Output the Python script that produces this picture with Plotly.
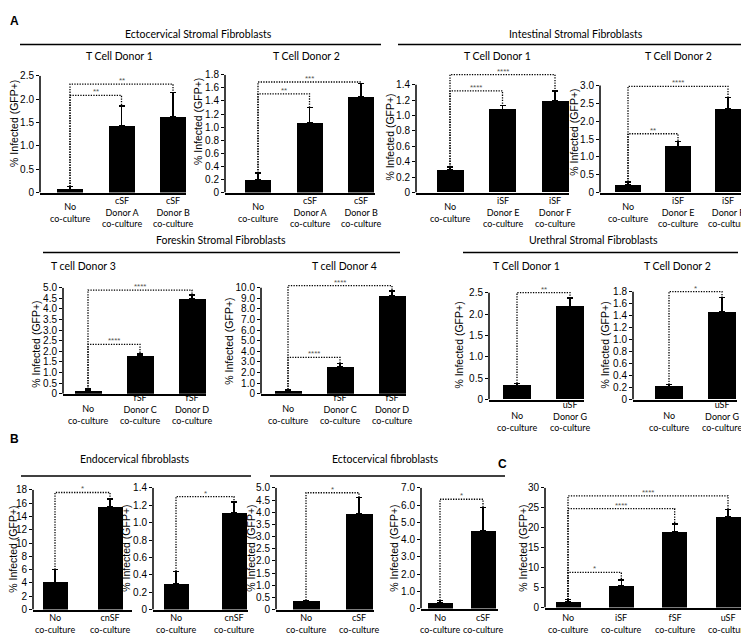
import plotly.graph_objects as go

W, H = 749, 635

# ------------------------------------------------------------------ data
ecto_d1_cats = ["No\nco-culture", "cSF\nDonor A\nco-culture", "cSF\nDonor B\nco-culture"]
ecto_d1_vals = [0.07, 1.44, 1.62]
ecto_d1_err = [0.06, 0.41, 0.52]
ecto_d1_ticks = [0, 0.5, 1.0, 1.5, 2.0, 2.5]
ecto_d1_sig = [(1, 2.08, "**"), (2, 2.32, "**")]

ecto_d2_cats = ["No\nco-culture", "cSF\nDonor A\nco-culture", "cSF\nDonor B\nco-culture"]
ecto_d2_vals = [0.19, 1.07, 1.47]
ecto_d2_err = [0.11, 0.23, 0.20]
ecto_d2_ticks = [0, 0.2, 0.4, 0.6, 0.8, 1.0, 1.2, 1.4, 1.6, 1.8]
ecto_d2_sig = [(1, 1.51, "**"), (2, 1.69, "***")]

int_d1_cats = ["No\nco-culture", "iSF\nDonor E\nco-culture", "iSF\nDonor F\nco-culture"]
int_d1_vals = [0.29, 1.08, 1.19]
int_d1_err = [0.04, 0.05, 0.13]
int_d1_ticks = [0, 0.2, 0.4, 0.6, 0.8, 1.0, 1.2, 1.4]
int_d1_sig = [(1, 1.32, "****"), (2, 1.53, "****")]

int_d2_cats = ["No\nco-culture", "iSF\nDonor E\nco-culture", "iSF\nDonor F\nco-culture"]
int_d2_vals = [0.22, 1.29, 2.34]
int_d2_err = [0.08, 0.14, 0.32]
int_d2_ticks = [0, 0.5, 1.0, 1.5, 2.0, 2.5, 3.0]
int_d2_sig = [(1, 1.65, "**"), (2, 2.98, "****")]

fore_d3_cats = ["No\nco-culture", "fSF\nDonor C\nco-culture", "fSF\nDonor D\nco-culture"]
fore_d3_vals = [0.16, 1.78, 4.47]
fore_d3_err = [0.06, 0.09, 0.19]
fore_d3_ticks = [0, 0.5, 1.0, 1.5, 2.0, 2.5, 3.0, 3.5, 4.0, 4.5, 5.0]
fore_d3_sig = [(1, 2.33, "****"), (2, 4.89, "****")]

fore_d4_cats = ["No\nco-culture", "fSF\nDonor C\nco-culture", "fSF\nDonor D\nco-culture"]
fore_d4_vals = [0.31, 2.55, 9.22]
fore_d4_err = [0.09, 0.30, 0.47]
fore_d4_ticks = [0, 1.0, 2.0, 3.0, 4.0, 5.0, 6.0, 7.0, 8.0, 9.0, 10.0]
fore_d4_sig = [(1, 3.42, "****"), (2, 10.19, "****")]

ure_d1_cats = ["No\nco-culture", "uSF\nDonor G\nco-culture"]
ure_d1_vals = [0.32, 2.18]
ure_d1_err = [0.06, 0.20]
ure_d1_ticks = [0, 0.5, 1.0, 1.5, 2.0, 2.5]
ure_d1_sig = [(1, 2.50, "**")]

ure_d2_cats = ["No\nco-culture", "uSF\nDonor G\nco-culture"]
ure_d2_vals = [0.22, 1.46]
ure_d2_err = [0.03, 0.24]
ure_d2_ticks = [0, 0.2, 0.4, 0.6, 0.8, 1.0, 1.2, 1.4, 1.6, 1.8]
ure_d2_sig = [(1, 1.80, "*")]

endo_a_cats = ["No\nco-culture", "cnSF\nco-culture"]
endo_a_vals = [4.1, 15.4]
endo_a_err = [1.9, 1.2]
endo_a_ticks = [0, 2, 4, 6, 8, 10, 12, 14, 16, 18]
endo_a_sig = [(1, 17.6, "*")]

endo_b_cats = ["No\nco-culture", "cnSF\nco-culture"]
endo_b_vals = [0.30, 1.11]
endo_b_err = [0.14, 0.13]
endo_b_ticks = [0, 0.2, 0.4, 0.6, 0.8, 1.0, 1.2, 1.4]
endo_b_sig = [(1, 1.30, "*")]

ectob_a_cats = ["No\nco-culture", "cSF\nco-culture"]
ectob_a_vals = [0.34, 3.95]
ectob_a_err = [0.04, 0.65]
ectob_a_ticks = [0, 0.5, 1.0, 1.5, 2.0, 2.5, 3.0, 3.5, 4.0, 4.5, 5.0]
ectob_a_sig = [(1, 4.80, "*")]

ectob_b_cats = ["No\nco-culture", "cSF\nco-culture"]
ectob_b_vals = [0.32, 4.52]
ectob_b_err = [0.14, 1.34]
ectob_b_ticks = [0, 1.0, 2.0, 3.0, 4.0, 5.0, 6.0, 7.0]
ectob_b_sig = [(1, 6.34, "*")]

comb_cats = ["No\nco-culture", "iSF\nco-culture", "fSF\nco-culture", "uSF\nco-culture"]
comb_vals = [1.5, 5.4, 18.9, 22.8]
comb_err = [0.5, 1.5, 2.0, 1.8]
comb_ticks = [0, 5, 10, 15, 20, 25, 30]
comb_sig = [(1, 8.8, "*"), (2, 24.8, "****"), (3, 28.0, "****")]

panels = [
    dict(cats=ecto_d1_cats, vals=ecto_d1_vals, err=ecto_d1_err, ticks=ecto_d1_ticks, sig=ecto_d1_sig, dec=1, title="T Cell Donor 1"),
    dict(cats=ecto_d2_cats, vals=ecto_d2_vals, err=ecto_d2_err, ticks=ecto_d2_ticks, sig=ecto_d2_sig, dec=1, title="T Cell Donor 2"),
    dict(cats=int_d1_cats, vals=int_d1_vals, err=int_d1_err, ticks=int_d1_ticks, sig=int_d1_sig, dec=1, title="T Cell Donor 1"),
    dict(cats=int_d2_cats, vals=int_d2_vals, err=int_d2_err, ticks=int_d2_ticks, sig=int_d2_sig, dec=1, title="T Cell Donor 2"),
    dict(cats=fore_d3_cats, vals=fore_d3_vals, err=fore_d3_err, ticks=fore_d3_ticks, sig=fore_d3_sig, dec=1, title="T cell Donor 3"),
    dict(cats=fore_d4_cats, vals=fore_d4_vals, err=fore_d4_err, ticks=fore_d4_ticks, sig=fore_d4_sig, dec=1, title="T cell Donor 4"),
    dict(cats=ure_d1_cats, vals=ure_d1_vals, err=ure_d1_err, ticks=ure_d1_ticks, sig=ure_d1_sig, dec=1, title="T Cell Donor 1"),
    dict(cats=ure_d2_cats, vals=ure_d2_vals, err=ure_d2_err, ticks=ure_d2_ticks, sig=ure_d2_sig, dec=1, title="T Cell Donor 2"),
    dict(cats=endo_a_cats, vals=endo_a_vals, err=endo_a_err, ticks=endo_a_ticks, sig=endo_a_sig, dec=0, title=None),
    dict(cats=endo_b_cats, vals=endo_b_vals, err=endo_b_err, ticks=endo_b_ticks, sig=endo_b_sig, dec=1, title=None),
    dict(cats=ectob_a_cats, vals=ectob_a_vals, err=ectob_a_err, ticks=ectob_a_ticks, sig=ectob_a_sig, dec=1, title=None),
    dict(cats=ectob_b_cats, vals=ectob_b_vals, err=ectob_b_err, ticks=ectob_b_ticks, sig=ectob_b_sig, dec=1, title=None),
    dict(cats=comb_cats, vals=comb_vals, err=comb_err, ticks=comb_ticks, sig=comb_sig, dec=0, title=None),
]

# ------------------------------------------------------------------ layout (pixels)
# box: axis_x, right_x, first_bar_center, last_bar_center, bar_width, baseline_y, top_tick_y
# labels: (anchor, y) -> 'middle' centre of label block, 'bottom' bottom of label block
geom = [
    dict(box=(32, 178, 62, 165, 26, 182, 63), title=(112, 43), ytitle=(6, 112), labels=("middle", 202)),
    dict(box=(217, 367, 250, 353, 26, 182, 62), title=(298, 43), ytitle=(190, 110), labels=("middle", 202)),
    dict(box=(408, 561, 442, 547, 27, 182, 72), title=(490, 43), ytitle=(382, 126), labels=("middle", 202)),
    dict(box=(592, 735, 620, 720, 26, 182, 73), title=(670, 43), ytitle=(566, 121), labels=("middle", 202)),
    dict(box=(55, 198, 80, 184, 27, 387, 279), title=(75, 257), ytitle=(28, 336), labels=("bottom", 421)),
    dict(box=(253, 398, 280, 384, 27, 387, 279), title=(336, 257), ytitle=(221, 334), labels=("bottom", 421)),
    dict(box=(481, 576, 509, 562, 28, 393, 284), title=(518, 257), ytitle=(451, 338), labels=("bottom", 428)),
    dict(box=(625, 729, 661, 714, 28, 393, 283), title=(669, 257), ytitle=(597, 338), labels=("bottom", 428)),
    dict(box=(25, 124, 47, 102, 25, 607, 485), title=None, ytitle=(5, 546), labels=("bottom", 634)),
    dict(box=(145, 240, 168, 226, 25, 607, 483), title=None, ytitle=(118, 545), labels=("bottom", 634)),
    dict(box=(268, 366, 298, 351, 27, 607, 483), title=None, ytitle=(243, 545), labels=("bottom", 634)),
    dict(box=(413, 490, 432, 475, 25, 606, 483), title=None, ytitle=(386, 545), labels=("bottom", 634)),
    dict(box=(537, 734, 560, 720, 25, 605, 483), title=None, ytitle=(515, 545), labels=("bottom", 634)),
]

headers = [
    ("Ectocervical Stromal Fibroblasts", 190, 20, 12, 373, 31),
    ("Intestinal Stromal Fibroblasts", 568, 20, 390, 748, 31),
    ("Foreskin Stromal Fibroblasts", 213, 230, 35, 392, 243),
    ("Urethral Stromal Fibroblasts", 585, 230, 455, 730, 243),
    ("Endocervical fibroblasts", 127, 454, 13, 243, 471),
    ("Ectocervical fibroblasts", 377, 454, 262, 497, 471),
]
letters = [("A", 7, 7), ("B", 7, 433), ("C", 494, 459)]

TXT_FONT = "Lato, 'Open Sans', sans-serif"
NUM_FONT = "'Liberation Sans', Arial, sans-serif"


def px(x):
    return x / W


def py(y):
    return 1 - y / H


fig = go.Figure()
annotations = []
shapes = []
lay = {}

for i, (p, g) in enumerate(zip(panels, geom)):
    k = i + 1
    xa = "x" if k == 1 else f"x{k}"
    ya = "y" if k == 1 else f"y{k}"
    n = len(p["cats"])
    ax_x, right_x, c0, cl, barpx, base, top_px = g["box"]
    unit = (cl - c0) / (n - 1)
    xmin = -(c0 - ax_x) / unit
    xmax = (n - 1) + (right_x - cl) / unit
    topv = p["ticks"][-1]
    ppu = (base - top_px) / topv
    ymax = max(topv, max(s[1] for s in p["sig"]) * 1.02)
    dom_top = base - ymax * ppu

    def fmt(v, d=p["dec"]):
        return "0" if v == 0 else f"{v:.{d}f}"

    lay["xaxis" if k == 1 else f"xaxis{k}"] = dict(
        domain=[px(ax_x), px(right_x)], range=[xmin, xmax], anchor=ya,
        type="category", showline=True, linecolor="black", linewidth=1.5,
        showticklabels=False, ticks="", showgrid=False, zeroline=False,
    )
    lay["yaxis" if k == 1 else f"yaxis{k}"] = dict(
        domain=[py(base), py(dom_top)], range=[0, ymax], anchor=xa,
        showline=False, showgrid=False, zeroline=False,
        tickmode="array", tickvals=p["ticks"], ticktext=[fmt(v) for v in p["ticks"]],
        ticks="outside", ticklen=3, tickwidth=1.2, tickcolor="black",
        tickfont=dict(family=NUM_FONT, size=10, color="black"),
    )
    shapes.append(dict(type="line", xref=f"{xa} domain", yref=ya, x0=0, x1=0,
                       y0=0, y1=topv, line=dict(color="black", width=1.5)))

    fig.add_trace(go.Bar(
        x=p["cats"], y=p["vals"], width=barpx / unit,
        marker=dict(color="black", line=dict(width=0)),
        error_y=dict(type="data", array=p["err"], arrayminus=[0] * n, symmetric=False,
                     color="black", thickness=1.5, width=3),
        xaxis=xa, yaxis=ya, showlegend=False, hoverinfo="skip",
    ))

    tops = [v + e for v, e in zip(p["vals"], p["err"])]
    for j, h, stars in p["sig"]:
        fig.add_trace(go.Scatter(
            x=[p["cats"][0], p["cats"][0], p["cats"][j], p["cats"][j]],
            y=[tops[0], h, h, tops[j]], mode="lines",
            line=dict(color="black", width=1.3, dash="1.3px,1.3px"),
            xaxis=xa, yaxis=ya, showlegend=False, hoverinfo="skip",
        ))
        annotations.append(dict(
            x=j / 2, y=h, xref=xa, yref=ya, text=stars, showarrow=False,
            yanchor="bottom", yshift=-3, font=dict(family=NUM_FONT, size=8, color="#555"),
        ))

    anchor, ly = g["labels"]
    for idx, cat in enumerate(p["cats"]):
        annotations.append(dict(
            x=idx, y=py(ly), xref=xa, yref="paper", text=cat.replace("\n", "<br>"),
            showarrow=False, xanchor="center", yanchor=anchor, borderpad=0,
            font=dict(family=TXT_FONT, size=9, color="black"),
        ))

    if p["title"]:
        tx, ty = g["title"]
        annotations.append(dict(x=px(tx), y=py(ty), xref="paper", yref="paper",
                                text=p["title"], showarrow=False, xanchor="center",
                                yanchor="middle", font=dict(family=TXT_FONT, size=10.5, color="black")))
    yx, yy = g["ytitle"]
    annotations.append(dict(x=px(yx), y=py(yy), xref="paper", yref="paper",
                            text="% Infected (GFP+)", textangle=-90, showarrow=False,
                            xanchor="center", yanchor="middle", borderpad=0,
                            font=dict(family=NUM_FONT, size=10.5, color="black")))

for text, cx, cy, x0, x1, ly in headers:
    annotations.append(dict(x=px(cx), y=py(cy), xref="paper", yref="paper", text=text,
                            showarrow=False, xanchor="center", yanchor="middle",
                            font=dict(family=TXT_FONT, size=10.5, color="black")))
    shapes.append(dict(type="line", xref="paper", yref="paper", x0=px(x0), x1=px(x1),
                       y0=py(ly), y1=py(ly), line=dict(color="black", width=1.5)))

for t, cx, cy in letters:
    annotations.append(dict(x=px(cx), y=py(cy), xref="paper", yref="paper", text=f"<b>{t}</b>",
                            showarrow=False, xanchor="center", yanchor="middle",
                            font=dict(family=NUM_FONT, size=12, color="black")))

fig.update_layout(
    width=W, height=H, autosize=False,
    margin=dict(l=0, r=0, t=0, b=0),
    paper_bgcolor="white", plot_bgcolor="white",
    annotations=annotations, shapes=shapes, bargap=0,
    **lay,
)

fig.write_html("out.html")
